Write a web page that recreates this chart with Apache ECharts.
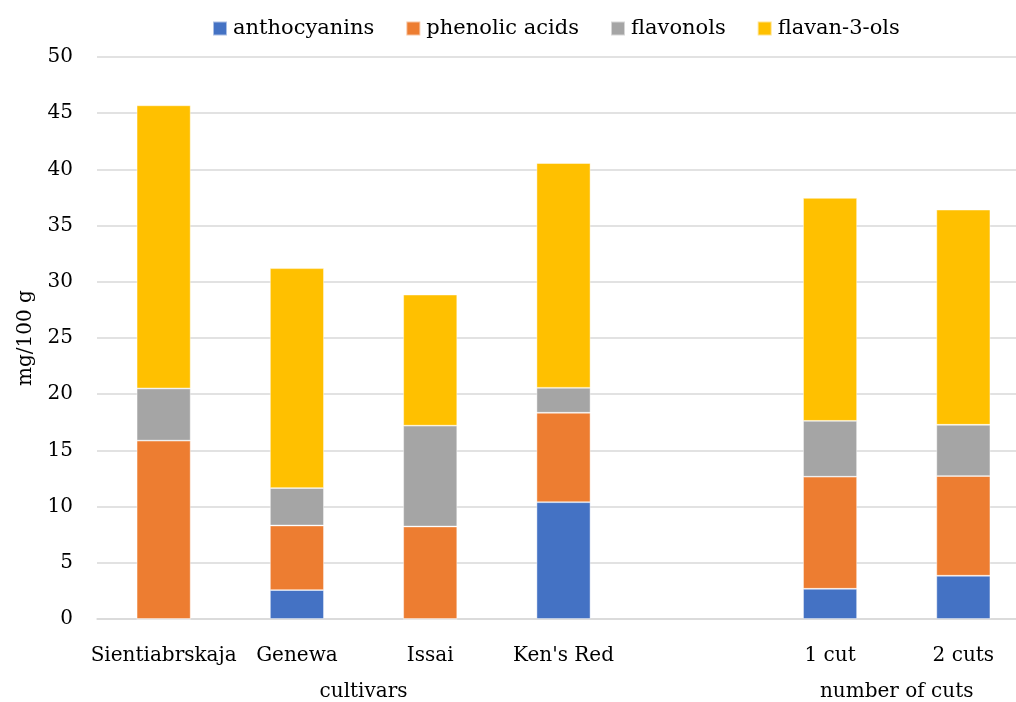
<!DOCTYPE html>
<html>
<head>
<meta charset="utf-8">
<script src="https://cdn.jsdelivr.net/npm/echarts@6/dist/echarts.min.js"></script>
<style>
  html, body { margin: 0; padding: 0; background: #fff; overflow: hidden; }
  #wrap { width: 1016px; height: 702px; overflow: hidden; }
  /* the plot area runs slightly past the right edge, so the canvas is wider than the view */
  #chart { width: 1040px; height: 702px; }
</style>
</head>
<body>
<div id="wrap"><div id="chart"></div></div>
<script>
// Phenolic compound content (mg/100 g) by cultivar and by number of cuts
const categories = ['Sientiabrskaja', 'Genewa', 'Issai', "Ken's Red", '', '1 cut', '2 cuts'];
const anthocyanins  = [0,     2.57,  0,     10.39, null, 2.69,  3.85];
const phenolicAcids = [15.87, 5.75,  8.23,  7.96,  null, 9.97,  8.87];
const flavonols     = [4.64,  3.33,  8.97,  2.22,  null, 4.97,  4.56];
const flavan3ols    = [25.19, 19.56, 11.66, 19.99, null, 19.83, 19.14];
const yTicks = [0, 5, 10, 15, 20, 25, 30, 35, 40, 45, 50];
// Group captions under the category labels (index range of categories they span)
const groups = [
  { text: 'cultivars', from: 0, to: 3 },
  { text: 'number of cuts', from: 5, to: 6 }
];

const FONT = 'DejaVu Serif';
const TEXT_COLOR = '#000';
const GRID_COLOR = '#d9d9d9';

const chart = echarts.init(document.getElementById('chart'), null, { renderer: 'canvas' });

function barSeries(name, data, color) {
  return {
    name: name,
    type: 'bar',
    stack: 'total',
    data: data,
    barWidth: 54,
    itemStyle: { color: color, borderColor: 'rgba(255,255,255,0.55)', borderWidth: 0.8 },
    emphasis: { disabled: true }
  };
}

const option = {
  animation: false,
  backgroundColor: '#fff',
  textStyle: { fontFamily: FONT, color: TEXT_COLOR },
  legend: {
    top: 18,
    left: 212,
    padding: 0,
    itemWidth: 14,
    itemHeight: 14,
    itemGap: 31,
    icon: 'rect',
    textStyle: { fontFamily: FONT, fontSize: 21, color: TEXT_COLOR, padding: [0, 0, 0, 1] },
    data: ['anthocyanins', 'phenolic acids', 'flavonols', 'flavan-3-ols']
  },
  grid: { left: 97, top: 57, height: 562, width: 933, containLabel: false },
  xAxis: {
    type: 'category',
    data: categories,
    axisLine: { lineStyle: { color: GRID_COLOR, width: 1.5 } },
    axisTick: { show: false },
    axisLabel: { fontFamily: FONT, fontSize: 20, color: TEXT_COLOR, margin: 27, interval: 0 }
  },
  yAxis: {
    type: 'value',
    min: yTicks[0],
    max: yTicks[yTicks.length - 1],
    interval: yTicks[1] - yTicks[0],
    name: 'mg/100 g',
    nameLocation: 'middle',
    nameGap: 61,
    nameTextStyle: { fontFamily: FONT, fontSize: 20, color: TEXT_COLOR },
    axisLine: { show: false },
    axisTick: { show: false },
    axisLabel: { fontFamily: FONT, fontSize: 20, color: TEXT_COLOR, margin: 24 },
    splitLine: { lineStyle: { color: GRID_COLOR, width: 1.5 } }
  },
  series: [
    barSeries('anthocyanins', anthocyanins, '#4472C4'),
    barSeries('phenolic acids', phenolicAcids, '#ED7D31'),
    barSeries('flavonols', flavonols, '#A5A5A5'),
    barSeries('flavan-3-ols', flavan3ols, '#FFC000')
  ]
};

chart.setOption(option);

// Place each group caption centred beneath the categories it covers
const baseY = chart.convertToPixel({ yAxisIndex: 0 }, 0);
chart.setOption({
  graphic: groups.map(function (g) {
    const x1 = chart.convertToPixel({ xAxisIndex: 0 }, g.from);
    const x2 = chart.convertToPixel({ xAxisIndex: 0 }, g.to);
    return {
      type: 'text',
      x: (x1 + x2) / 2,
      y: baseY + 73,
      style: {
        text: g.text,
        font: '20px "' + FONT + '"',
        fill: TEXT_COLOR,
        align: 'center',
        verticalAlign: 'middle'
      }
    };
  })
});
</script>
</body>
</html>
